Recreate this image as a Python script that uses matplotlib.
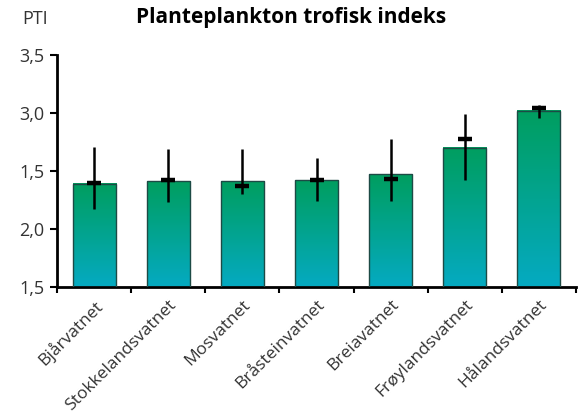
import matplotlib
matplotlib.use("Agg")
import matplotlib.pyplot as plt
import numpy as np
from matplotlib.colors import LinearSegmentedColormap

plt.rcParams["font.family"] = ["Open Sans", "DejaVu Sans"]

lakes = ["Bjårvatnet", "Stokkelandsvatnet", "Mosvatnet", "Bråsteinvatnet",
         "Breiavatnet", "Frøylandsvatnet", "Hålandsvatnet"]
bar_vals = [2.39, 2.41, 2.41, 2.42, 2.47, 2.70, 3.02]
mark_vals = [2.40, 2.42, 2.37, 2.425, 2.43, 2.78, 3.04]
err_low = [2.17, 2.23, 2.30, 2.24, 2.24, 2.42, 2.96]
err_high = [2.71, 2.69, 2.69, 2.61, 2.78, 2.99, 3.07]
ytick_vals = [1.5, 2.0, 2.5, 3.0, 3.5]
ytick_labels = ["1,5", "2,0", "1,5", "3,0", "3,5"]

fig = plt.figure(figsize=(5.81, 4.16), dpi=100)
ax = fig.add_axes([57 / 581, 1 - 287 / 416, 519 / 581, 232 / 416])
ymin, ymax = 1.5, 3.5

x = np.arange(len(lakes))
width = 0.58
bars = ax.bar(x, np.array(bar_vals) - ymin, width, bottom=ymin,
              facecolor="none", edgecolor="#1d4a45", linewidth=1.0, zorder=3)

# gradient fill per bar (cyan at bottom -> green at top)
cmap = LinearSegmentedColormap.from_list("grad", ["#05aac2", "#009e5f"])
grad = np.linspace(0, 1, 256).reshape(-1, 1)
for b in bars:
    x0 = b.get_x()
    ax.imshow(grad, cmap=cmap, aspect="auto", origin="lower",
              extent=[x0, x0 + b.get_width(), ymin, ymin + b.get_height()], zorder=2)

m = np.array(mark_vals)
yerr = [m - np.array(err_low), np.array(err_high) - m]
ax.errorbar(x, m, yerr=yerr, fmt="_", color="black", markersize=10, mew=3.2,
            elinewidth=1.8, capsize=0, zorder=4)

ax.set_xlim(-0.5, len(lakes) - 0.5)
ax.set_ylim(ymin, ymax)
ax.set_yticks(ytick_vals)
ax.set_yticklabels(ytick_labels, fontsize=13, color="#333333")
ax.set_xticks(x)
ax.set_xticklabels(lakes, rotation=45, ha="right", rotation_mode="anchor",
                   fontsize=12.5, color="#333333")
ax.set_xticks(np.arange(len(lakes) + 1) - 0.5, minor=True)
ax.tick_params(axis="x", which="major", length=0, pad=7)
ax.tick_params(axis="x", which="minor", length=4.5, width=1.5, direction="out")
ax.tick_params(axis="y", length=5, width=1.5, direction="out", pad=4)

for s in ["top", "right"]:
    ax.spines[s].set_visible(False)
for s in ["left", "bottom"]:
    ax.spines[s].set_linewidth(2)

fig.text(22 / 581, 1 - 19 / 416, "PTI", fontsize=13, color="#333333", va="center")
fig.text(291 / 581, 1 - 18 / 416, "Planteplankton trofisk indeks", fontsize=15,
         fontweight="bold", ha="center", va="center")

fig.savefig("out.png", dpi=100)
